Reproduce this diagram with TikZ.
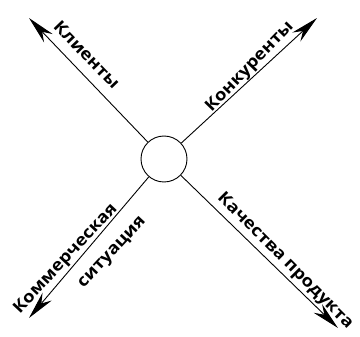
\documentclass[tikz,border=0pt]{standalone}
\usepackage{fontspec}
\newfontfamily\handfont{Open Sans}[FakeStretch=1.12]
\usetikzlibrary{arrows.meta}

\begin{document}
\begin{tikzpicture}[x=1pt, y=-1pt,
  spoke/.style={-{Stealth[length=28pt, width=12pt, inset=9pt]}, line width=0.9pt},
  lbl/.style={font=\handfont\bfseries\fontsize{16.5}{18}\selectfont, inner sep=0pt}]
  \useasboundingbox (0,0) rectangle (360,337);
  \node[draw, circle, line width=0.9pt, minimum size=46pt, inner sep=0pt] (hub) at (164,159) {};
  \coordinate (kl) at (29,18);
  \coordinate (ko) at (317,18);
  \coordinate (km) at (29,318);
  \coordinate (kp) at (338,328);
  \draw[spoke] (hub) -- (kl);
  \draw[spoke] (hub) -- (ko);
  \draw[spoke] (hub) -- (km);
  \draw[spoke] (hub) -- (kp);
  \node[lbl, rotate=-46] (klienty) at (87,55) {Клиенты};
  \node[lbl, rotate=46] (konkurenty) at (250,67) {Конкуренты};
  \node[lbl, rotate=47] (kommerch) at (66,259) {Коммерческая};
  \node[lbl, rotate=47] (situac) at (113,253) {ситуация};
  \node[lbl, rotate=-45] (kachestvo) at (285,261) {Качества продукта};
\end{tikzpicture}
\end{document}
